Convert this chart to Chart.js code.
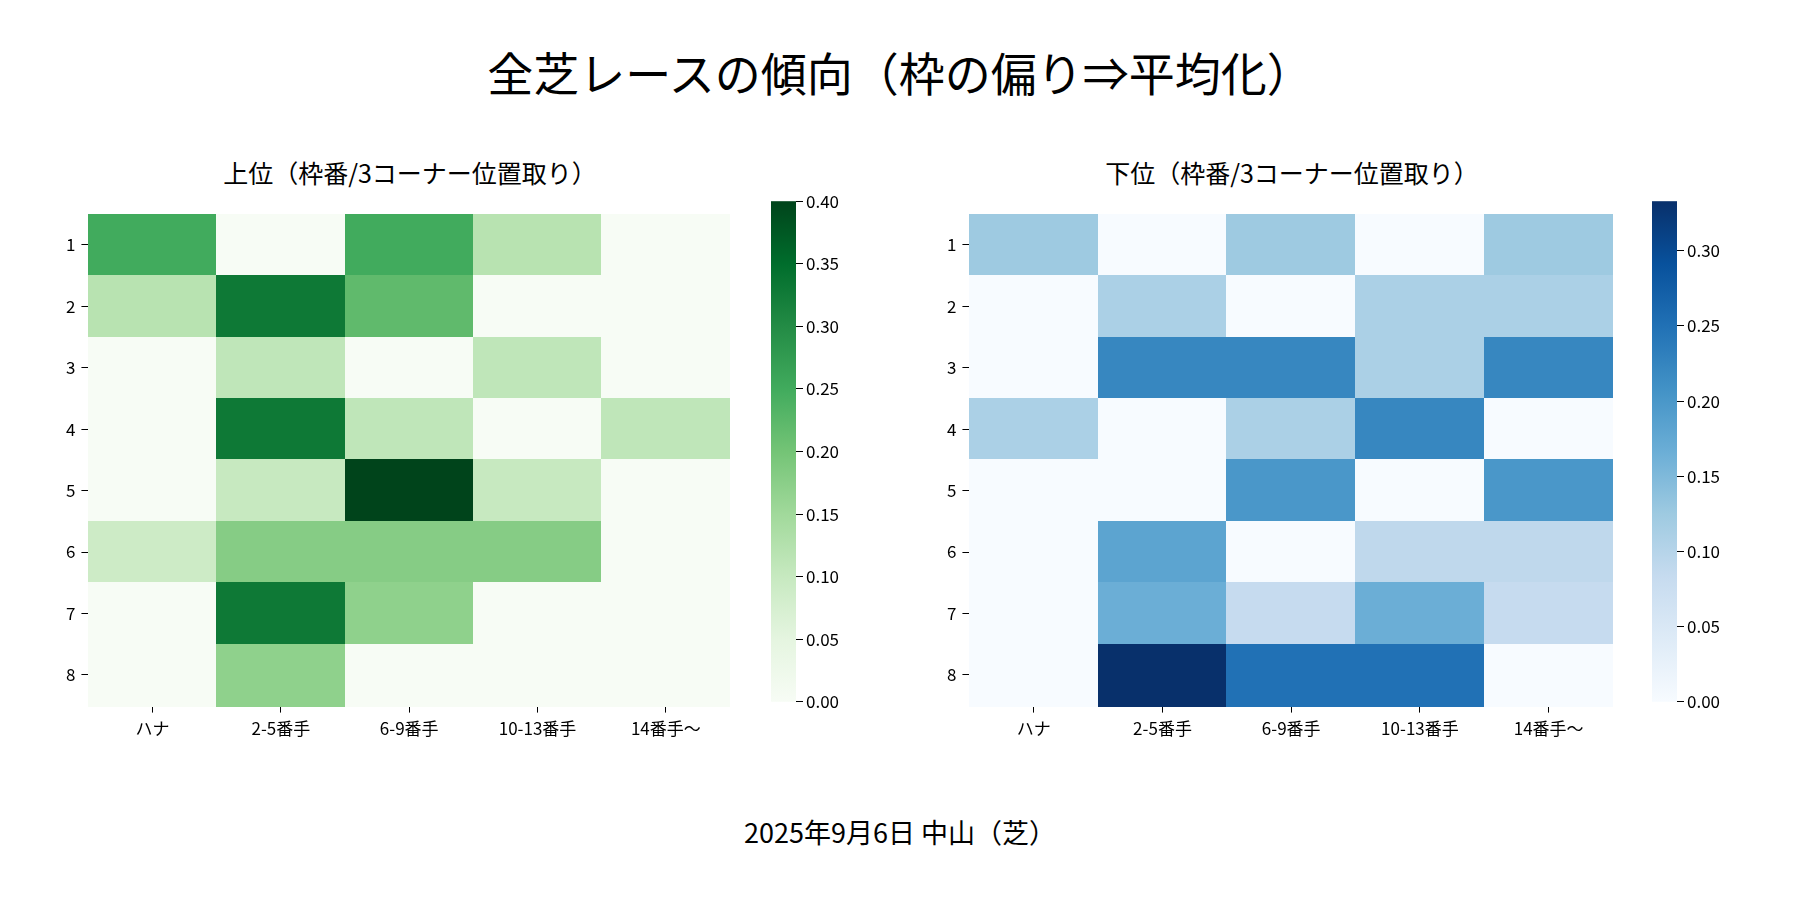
<!DOCTYPE html>
<html><head><meta charset="utf-8">
<script src="https://cdn.jsdelivr.net/npm/chart.js@4"></script>
<style>
body{margin:0;width:1800px;height:900px;background:#fff;font-family:"Noto Sans CJK JP",sans-serif;position:relative;overflow:hidden}
.t{position:absolute;text-align:center;color:#000;white-space:nowrap}
.c{position:absolute}
</style></head><body>
<div class="t" style="left:0;width:1800px;top:38px;font-size:46px">全芝レースの傾向（枠の偏り⇒平均化）</div>
<div class="t" style="left:90px;width:640px;top:154px;font-size:25px">上位（枠番/3コーナー位置取り）</div>
<div class="t" style="left:971px;width:642px;top:154px;font-size:25px">下位（枠番/3コーナー位置取り）</div>
<div class="t" style="left:0;width:1800px;top:812px;font-size:27px">2025年9月6日 中山（芝）</div>
<div class="c" style="left:60px;top:198px;width:670px;height:547px"><canvas id="h1"></canvas></div>
<div class="c" style="left:941px;top:198px;width:672px;height:547px"><canvas id="h2"></canvas></div>
<div class="c" style="left:771px;top:188px;width:95px;height:527px"><canvas id="c1"></canvas></div>
<div class="c" style="left:1652px;top:188px;width:95px;height:527px"><canvas id="c2"></canvas></div>
<script>
const positions=["ハナ","2-5番手","6-9番手","10-13番手","14番手〜"];
const gates=["1","2","3","4","5","6","7","8"];
const upper=[
[0.25,0,0.25,0.12,0],
[0.12,0.33,0.22,0,0],
[0,0.11,0,0.11,0],
[0,0.33,0.11,0,0.11],
[0,0.10,0.40,0.10,0],
[0.09,0.18,0.18,0.18,0],
[0,0.33,0.17,0,0],
[0,0.17,0,0,0]];
const lower=[
[0.125,0,0.125,0,0.125],
[0,0.111,0,0.111,0.111],
[0,0.222,0.222,0.111,0.222],
[0.111,0,0.111,0.222,0],
[0,0,0.2,0,0.2],
[0,0.182,0,0.091,0.091],
[0,0.167,0.083,0.167,0.083],
[0,0.333,0.25,0.25,0]];
const upperMax=0.40, lowerMax=0.333;
const greens=["#f7fcf5","#e5f5e0","#c7e9c0","#a1d99b","#74c476","#41ab5d","#238b45","#006d2c","#00441b"];
const blues=["#f7fbff","#deebf7","#c6dbef","#9ecae1","#6baed6","#4292c6","#2171b5","#08519c","#08306b"];
function hex(h){return [1,3,5].map(i=>parseInt(h.substr(i,2),16));}
function cmap(stops,t){t=Math.max(0,Math.min(1,t));const p=t*(stops.length-1);const i=Math.min(Math.floor(p),stops.length-2);const f=p-i;const a=hex(stops[i]),b=hex(stops[i+1]);return `rgb(${a.map((v,k)=>Math.round(v+(b[k]-v)*f)).join(",")})`;}
Chart.defaults.font.family='"Noto Sans CJK JP",sans-serif';
Chart.defaults.color='#000';
function heat(id,data,stops,vmax){
 new Chart(document.getElementById(id),{type:'bar',
  data:{labels:positions,datasets:[{data:positions.map(()=>null)}]},
  options:{responsive:true,maintainAspectRatio:false,animation:false,layout:{padding:0},
   plugins:{legend:{display:false},tooltip:{enabled:false}},
   scales:{
    x:{type:'category',offset:true,grid:{drawOnChartArea:false,offset:false,tickLength:7,color:'#000'},border:{display:false},ticks:{font:{size:17},maxRotation:0,autoSkip:false,padding:6}},
    y:{type:'category',labels:gates,offset:true,grid:{drawOnChartArea:false,offset:false,tickLength:7,color:'#000'},border:{display:false},ticks:{font:{size:17},padding:6}}
   }},
  plugins:[{id:'cells',beforeDatasetsDraw(ch){const c=ch.ctx,x=ch.scales.x,y=ch.scales.y;
   const w=(x.right-x.left)/positions.length,h=(y.bottom-y.top)/gates.length;
   data.forEach((row,r)=>row.forEach((v,k)=>{const cx=x.getPixelForValue(k),cy=y.getPixelForValue(r);
    c.fillStyle=cmap(stops,v/vmax);c.fillRect(Math.floor(cx-w/2),Math.floor(cy-h/2),Math.ceil(w)+1,Math.ceil(h)+1);}));}}]
 });
}
function bar(id,stops,vmax){
 new Chart(document.getElementById(id),{type:'bar',data:{labels:[''],datasets:[{data:[null]}]},
  options:{responsive:true,maintainAspectRatio:false,animation:false,layout:{padding:{top:10,bottom:10,left:0,right:0}},
   plugins:{legend:{display:false},tooltip:{enabled:false}},
   scales:{x:{display:false},
    y:{position:'right',min:0,max:vmax,grid:{drawOnChartArea:false,tickLength:7,color:'#000'},border:{display:false},
     afterBuildTicks(s){s.ticks=s.ticks.filter(t=>Math.abs(t.value*20-Math.round(t.value*20))<1e-6);},
     ticks:{stepSize:0.05,font:{size:17},callback:v=>Number(v).toFixed(2)},afterFit(s){s.width=70;}}}},
  plugins:[{id:'grad',beforeDatasetsDraw(ch){const a=ch.chartArea,c=ch.ctx;
   const g=c.createLinearGradient(0,a.bottom,0,a.top);stops.forEach((s,i)=>g.addColorStop(i/(stops.length-1),s));
   c.fillStyle=g;c.fillRect(a.left,a.top,a.right-a.left,a.bottom-a.top);}}]
 });
}
heat('h1',upper,greens,upperMax);
heat('h2',lower,blues,lowerMax);
bar('c1',greens,upperMax);
bar('c2',blues,lowerMax);
</script></body></html>
